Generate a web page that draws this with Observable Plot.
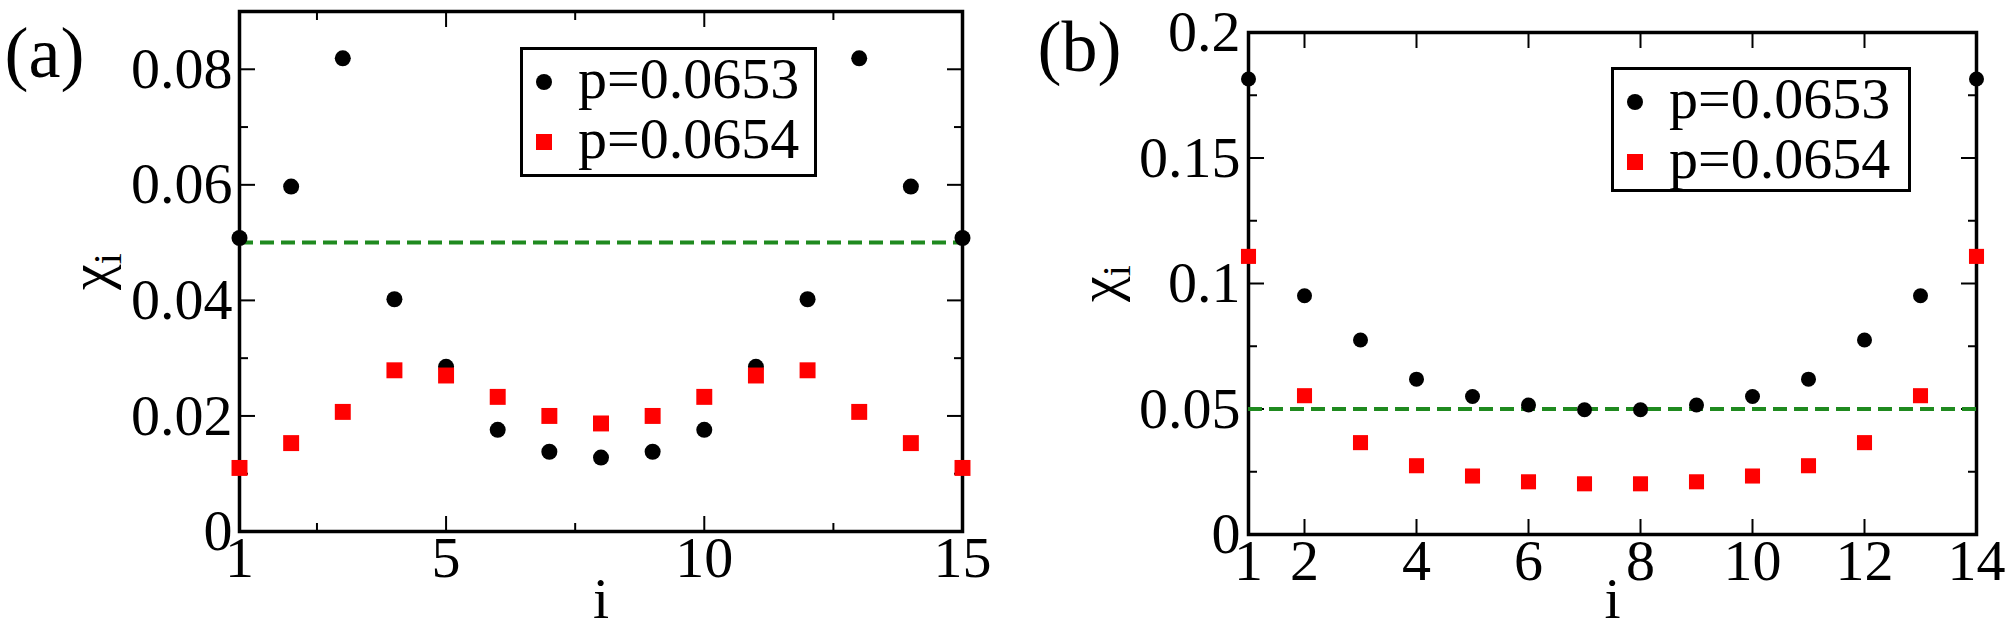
<!DOCTYPE html>
<html><head><meta charset="utf-8">
<script src="https://cdn.jsdelivr.net/npm/d3@7"></script>
<script src="https://cdn.jsdelivr.net/npm/@observablehq/plot@0.6"></script>
<style>
body{margin:0;background:#fff;}
#wrap{position:relative;width:2008px;height:630px;overflow:hidden;font-family:"Liberation Serif",serif;background:#fff;}
.panel{position:absolute;top:0;}
.legend{position:absolute;box-sizing:border-box;border:3px solid #000;background:#fff;}
.legend .t{position:absolute;font-size:58px;line-height:58px;white-space:nowrap;color:#000;font-family:"Liberation Serif",serif;}
.legend .c{position:absolute;border-radius:50%;background:#000;}
.legend .s{position:absolute;background:#f00;}
</style></head><body>
<div id="wrap"></div>
<script>
// ---- data ----
const iA = [1,2,3,4,5,6,7,8,9,10,11,12,13,14,15];
const chiA_0653 = [0.0508,0.0597,0.0819,0.0402,0.0285,0.0176,0.0138,0.0128,0.0138,0.0176,0.0285,0.0402,0.0819,0.0597,0.0508];
const chiA_0654 = [0.0110,0.0153,0.0207,0.0279,0.0270,0.0233,0.0200,0.0187,0.0200,0.0233,0.0270,0.0279,0.0207,0.0153,0.0110];
const iB = [1,2,3,4,5,6,7,8,9,10,11,12,13,14];
const chiB_0653 = [0.1815,0.0951,0.0775,0.0619,0.0550,0.0516,0.0497,0.0497,0.0516,0.0550,0.0619,0.0775,0.0951,0.1815];
const chiB_0654 = [0.1108,0.0553,0.0366,0.0274,0.0233,0.0210,0.0202,0.0202,0.0210,0.0233,0.0274,0.0366,0.0553,0.1108];
const threshold = 0.05;
const seriesLabels = ["p=0.0653","p=0.0654"];
const panelLabels = ["(a)","(b)"];
const xTitle = "i";
// ticks
const xLabelsA = [1,5,10,15];
const xMajorA = [5,10];
const xMinorA = [2.5,7.5,12.5];
const yLabelsA = [0,0.02,0.04,0.06,0.08];
const yMajorA = [0.02,0.04,0.06,0.08];
const yMinorA = [0.01,0.03,0.05,0.07];
const xLabelsB = [1,2,4,6,8,10,12,14];
const xMajorB = [2,4,6,8,10,12];
const xMinorB = [];
const yLabelsB = [0,0.05,0.1,0.15,0.2];
const yMajorB = [0.05,0.1,0.15];
const yMinorB = [0.025,0.075,0.125,0.175];

const GREEN = "#1f8a1f";
const FS = 58;

function ticks(axis, anchor, values, size) {
  const f = axis === "x" ? Plot.axisX : Plot.axisY;
  return f(values, {anchor, tickSize: -size, fill: "none", label: null, strokeWidth: 2});
}

function panel(cfg) {
  const black = cfg.i.map((x, k) => ({i: x, chi: cfg.black[k]}));
  const red = cfg.i.map((x, k) => ({i: x, chi: cfg.red[k]}));
  return Plot.plot({
    width: cfg.width, height: 630,
    marginLeft: cfg.ml, marginRight: cfg.mr, marginTop: cfg.mt, marginBottom: cfg.mb,
    x: {domain: cfg.xDomain},
    y: {domain: cfg.yDomain},
    style: {fontFamily: "'Liberation Serif', serif", background: "white", overflow: "visible", color: "black"},
    marks: [
      // tick marks (inward) on all four sides
      ticks("x", "bottom", cfg.xMajor, 15), ticks("x", "top", cfg.xMajor, 15),
      ticks("x", "bottom", cfg.xMinor, 8), ticks("x", "top", cfg.xMinor, 8),
      ticks("y", "left", cfg.yMajor, 16), ticks("y", "right", cfg.yMajor, 16),
      ticks("y", "left", cfg.yMinor, 9), ticks("y", "right", cfg.yMinor, 9),
      // tick labels
      Plot.axisX(cfg.xLabels, {anchor: "bottom", tickSize: 0, tickPadding: 4, fontSize: FS, label: null, tickFormat: d => String(d)}),
      Plot.axisY(cfg.yLabels, {anchor: "left", tickSize: 0, tickPadding: cfg.ypad, fontSize: FS, label: null, tickFormat: d => String(d)}),
      Plot.frame({stroke: "black", strokeWidth: 3.5}),
      Plot.ruleY([threshold], {stroke: GREEN, strokeWidth: 4, strokeDasharray: "14,7"}),
      Plot.dot(black, {x: "i", y: "chi", r: cfg.rc, fill: "black", stroke: "none"}),
      Plot.dot(red, {x: "i", y: "chi", r: cfg.rs, symbol: "square", fill: "#ff0000", stroke: "none"}),
      Plot.text([cfg.tag], {frameAnchor: "top-left", dx: cfg.tagDx, dy: cfg.tagDy, textAnchor: "start", lineAnchor: "bottom", fontSize: 72, fill: "black"}),
      Plot.text([xTitle], {frameAnchor: "bottom", dy: cfg.iDy, lineAnchor: "bottom", fontSize: FS, fill: "black"}),
      Plot.text(["χi"], {frameAnchor: "left", dx: -149, rotate: -90, textAnchor: "middle", lineAnchor: "middle", fontSize: FS, fill: "black", className: "ylab"})
    ]
  });
}

const wrap = document.getElementById("wrap");
const a = panel({
  width: 1004, ml: 239, mr: 42, mt: 11, mb: 99,
  xDomain: [1, 15], yDomain: [0, 0.09],
  i: iA, black: chiA_0653, red: chiA_0654,
  xMajor: xMajorA, xMinor: xMinorA, yMajor: yMajorA, yMinor: yMinorA,
  xLabels: xLabelsA, yLabels: yLabelsA, ypad: 7,
  rc: 8, rs: 9, tag: panelLabels[0], tagDx: -235, tagDy: 65, iDy: 86
});
const b = panel({
  width: 1004, ml: 244, mr: 32, mt: 32, mb: 96,
  xDomain: [1, 14], yDomain: [0, 0.2],
  i: iB, black: chiB_0653, red: chiB_0654,
  xMajor: xMajorB, xMinor: xMinorB, yMajor: yMajorB, yMinor: yMinorB,
  xLabels: xLabelsB, yLabels: yLabelsB, ypad: 8,
  rc: 7.5, rs: 8.5, tag: panelLabels[1], tagDx: -211, tagDy: 38, iDy: 83
});
a.classList.add("panel"); a.style.left = "0px";
b.classList.add("panel"); b.style.left = "1004px";
wrap.appendChild(a); wrap.appendChild(b);

// subscript on the y-axis title
for (const t of wrap.querySelectorAll(".ylab text")) {
  t.textContent = "";
  const ns = "http://www.w3.org/2000/svg";
  const s1 = document.createElementNS(ns, "tspan"); s1.textContent = "χ";
  const s2 = document.createElementNS(ns, "tspan"); s2.textContent = "i";
  s2.setAttribute("font-size", "40"); s2.setAttribute("dy", "12");
  t.appendChild(s1); t.appendChild(s2);
}

// legends
function legend(left, top, width, height) {
  const L = document.createElement("div");
  L.className = "legend";
  Object.assign(L.style, {left: left + "px", top: top + "px", width: width + "px", height: height + "px"});
  const c = document.createElement("div"); c.className = "c";
  Object.assign(c.style, {left: "13px", top: "24px", width: "16px", height: "16px"});
  const s = document.createElement("div"); s.className = "s";
  Object.assign(s.style, {left: "13px", top: "84px", width: "16px", height: "16px"});
  const t1 = document.createElement("div"); t1.className = "t"; t1.textContent = seriesLabels[0];
  Object.assign(t1.style, {left: "55px", top: "0px"});
  const t2 = document.createElement("div"); t2.className = "t"; t2.textContent = seriesLabels[1];
  Object.assign(t2.style, {left: "55px", top: "60px"});
  L.append(c, s, t1, t2);
  wrap.appendChild(L);
}
legend(520, 47, 297, 130);
legend(1611, 67, 300, 125);
</script>
</body></html>
